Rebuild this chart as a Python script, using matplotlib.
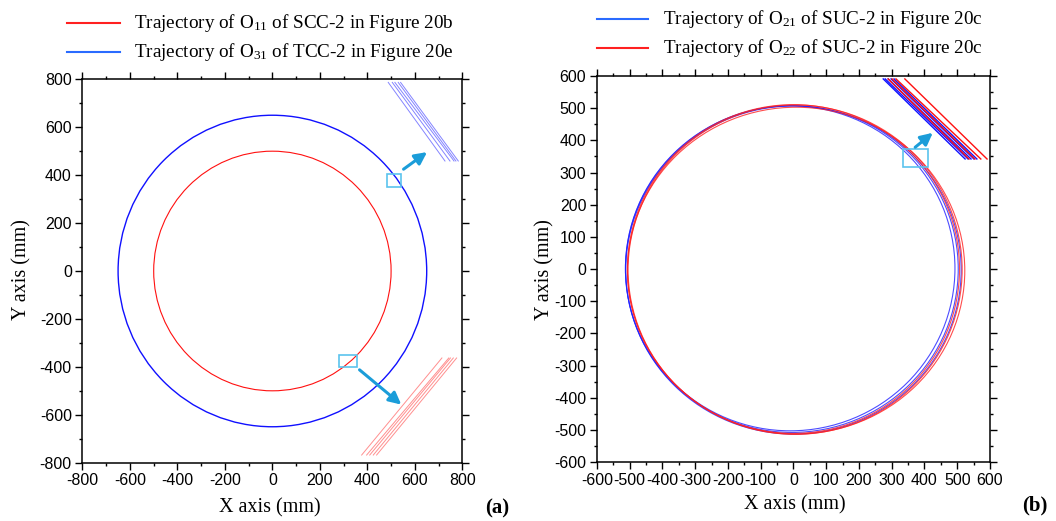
import numpy as np
import matplotlib
matplotlib.use("Agg")
import matplotlib.pyplot as plt
from matplotlib.patches import Circle, Ellipse, Rectangle
from matplotlib.lines import Line2D
from matplotlib.ticker import MultipleLocator

plt.rcParams['font.family'] = ['Liberation Sans', 'DejaVu Sans']
plt.rcParams['axes.unicode_minus'] = False
plt.rcParams['mathtext.fontset'] = 'custom'
plt.rcParams['mathtext.rm'] = 'Liberation Serif'
plt.rcParams['mathtext.it'] = 'Liberation Serif:italic'

# ---- panel (a) data ----
r_o11 = 500          # SCC-2, O11 (red)
r_o31 = 650          # TCC-2, O31 (blue)
# enlarged views (x top, x bottom) of the line bundles
a_blue_top_y, a_blue_bot_y = 787, 459
a_blue_top_x = [488, 505, 516, 530, 540]
a_blue_bot_x = [727, 748, 765, 773, 783]
a_red_top_y, a_red_bot_y = -363, -768
a_red_top_x = [714, 743, 750, 762, 776]
a_red_bot_x = [376, 397, 410, 425, 439]
a_box_blue = (484, 351, 59, 54)     # x, y, w, h
a_box_red = (282, -401, 76, 50)
a_arrow_blue = [(543, 418), (661, 503)]
a_arrow_red = [(358, -405), (552, -565)]

# ---- panel (b) data ----
# loops as ellipses: cx, cy, width/2, height/2
b_blue_loops = [(-5, 0, 508, 508), (-10, 2, 503, 505), (0, -3, 512, 510)]
b_red_loops = [(5, -2, 510, 512), (8, -5, 515, 508), (0, 0, 507, 511)]
b_top_y, b_bot_y = 591, 342
b_blue_top_x = [274, 280, 289, 298, 307]
b_blue_bot_x = [524, 533, 542, 551, 560]
b_red_top_x = [289, 301, 313, 340]
b_red_bot_x = [536, 554, 572, 591]
b_box = (334, 317, 77, 56)
b_arrow = [(365, 373), (432, 429)]

box_col = '#5bc3ee'
arrow_col = '#1b9dd9'
serif = ['Liberation Serif', 'DejaVu Serif']

fig = plt.figure(figsize=(10.56, 5.21), dpi=100)
ax1 = fig.add_axes([0.0781, 0.1119, 0.3597, 0.7359])
ax2 = fig.add_axes([0.5653, 0.1132, 0.3722, 0.7409])


def style(ax, lim, major, minor):
    ax.set_xlim(-lim, lim)
    ax.set_ylim(-lim, lim)
    ax.xaxis.set_major_locator(MultipleLocator(major))
    ax.yaxis.set_major_locator(MultipleLocator(major))
    ax.xaxis.set_minor_locator(MultipleLocator(minor))
    ax.yaxis.set_minor_locator(MultipleLocator(minor))
    ax.tick_params(which='both', direction='out', top=True, right=True,
                   labeltop=False, labelright=False, width=1, labelsize=11.5, pad=3)
    ax.tick_params(which='major', length=4.7)
    ax.tick_params(which='minor', length=2.5)
    for s in ax.spines.values():
        s.set_linewidth(1.1)


# panel (a)
ax1.add_patch(Circle((0, 0), r_o31, fill=False, color='#1010ff', lw=1.0))
ax1.add_patch(Circle((0, 0), r_o11, fill=False, color='#ff1010', lw=0.8))
for xt, xb in zip(a_blue_top_x, a_blue_bot_x):
    ax1.plot([xt, xb], [a_blue_top_y, a_blue_bot_y], color='#5050ff', lw=0.7, alpha=0.7)
for xt, xb in zip(a_red_top_x, a_red_bot_x):
    ax1.plot([xt, xb], [a_red_top_y, a_red_bot_y], color='#ff6060', lw=0.7, alpha=0.7)
ax1.add_patch(Rectangle(a_box_blue[:2], a_box_blue[2], a_box_blue[3], fill=False, ec=box_col, lw=1.2))
ax1.add_patch(Rectangle(a_box_red[:2], a_box_red[2], a_box_red[3], fill=False, ec=box_col, lw=1.2))
for st, en in [a_arrow_blue, a_arrow_red]:
    ax1.annotate('', xy=en, xytext=st,
                 arrowprops=dict(arrowstyle='-|>', color=arrow_col, lw=2.2, mutation_scale=18))
style(ax1, 800, 200, 100)

# panel (b)
for cx, cy, rx, ry in b_blue_loops:
    ax2.add_patch(Ellipse((cx, cy), 2 * rx, 2 * ry, fill=False, ec='#2020ff', lw=0.8, alpha=0.8))
for cx, cy, rx, ry in b_red_loops:
    ax2.add_patch(Ellipse((cx, cy), 2 * rx, 2 * ry, fill=False, ec='#ff2020', lw=0.8, alpha=0.8))
for xt, xb in zip(b_blue_top_x, b_blue_bot_x):
    ax2.plot([xt, xb], [b_top_y, b_bot_y], color='#1010ff', lw=1.0)
for xt, xb in zip(b_red_top_x, b_red_bot_x):
    ax2.plot([xt, xb], [b_top_y, b_bot_y], color='#ff1010', lw=1.0)
ax2.add_patch(Rectangle(b_box[:2], b_box[2], b_box[3], fill=False, ec=box_col, lw=1.2))
ax2.annotate('', xy=b_arrow[1], xytext=b_arrow[0],
             arrowprops=dict(arrowstyle='-|>', color=arrow_col, lw=2.2, mutation_scale=18))
style(ax2, 600, 100, 50)

# legends (figure pixel coords -> fraction)
W, H = 1056, 521


def leg(x0, x1, xt, y, col, label):
    fig.add_artist(Line2D([x0 / W, x1 / W], [1 - y / H, 1 - y / H], color=col, lw=1.5))
    fig.text(xt / W, 1 - y / H, label, family=serif, fontsize=13.8, va='center', ha='left')


leg(67, 120, 134, 23, '#ff2020', r'Trajectory of O$_{11}$ of SCC-2 in Figure 20b')
leg(67, 120, 134, 52, '#2a6bff', r'Trajectory of O$_{31}$ of TCC-2 in Figure 20e')
leg(597, 648, 663, 19, '#2a6bff', r'Trajectory of O$_{21}$ of SUC-2 in Figure 20c')
leg(597, 648, 663, 48, '#ff2020', r'Trajectory of O$_{22}$ of SUC-2 in Figure 20c')

# axis labels
fig.text(270 / W, 1 - 508 / H, 'X axis (mm)', family=serif, fontsize=14.5, ha='center', va='center')
fig.text(795 / W, 1 - 505 / H, 'X axis (mm)', family=serif, fontsize=14.5, ha='center', va='center')
fig.text(22 / W, 1 - 270 / H, 'Y axis (mm)', family=serif, fontsize=14.5, ha='center', va='center', rotation=90)
fig.text(545 / W, 1 - 270 / H, 'Y axis (mm)', family=serif, fontsize=14.5, ha='center', va='center', rotation=90)
fig.text(497 / W, 1 - 508 / H, '(a)', family=serif, fontsize=15, fontweight='bold', ha='center', va='center')
fig.text(1035 / W, 1 - 505 / H, '(b)', family=serif, fontsize=15, fontweight='bold', ha='center', va='center')

fig.savefig('out.png', dpi=100)
